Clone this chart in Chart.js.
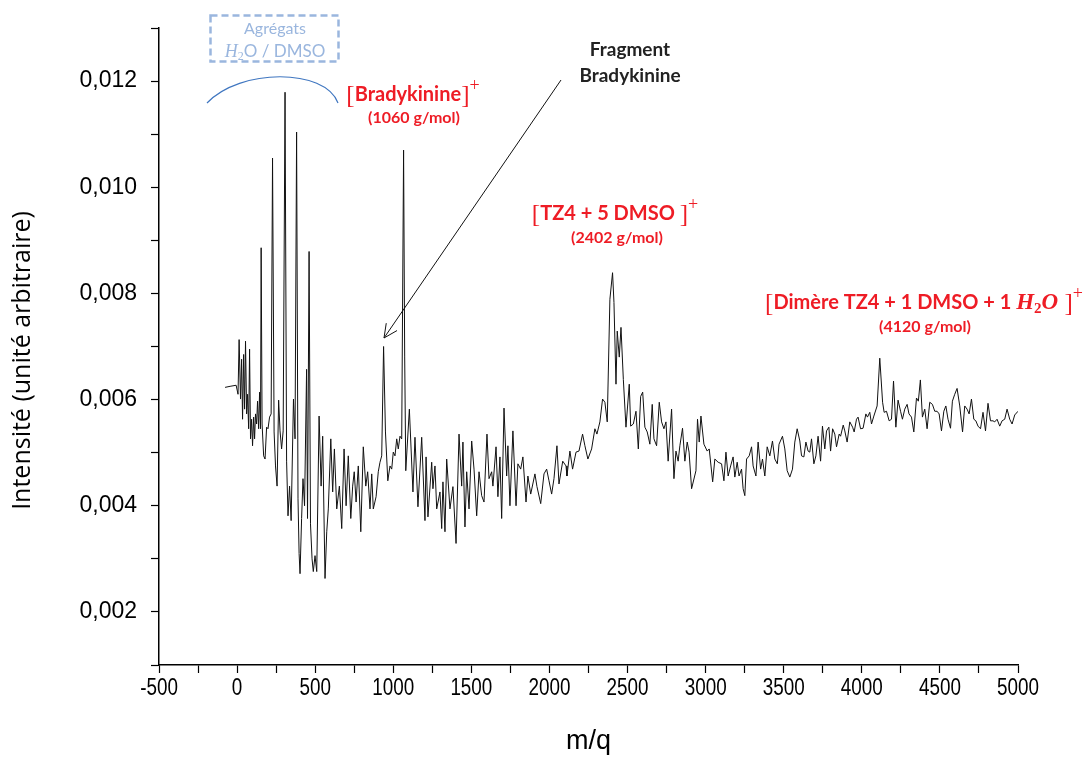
<!DOCTYPE html>
<html lang="fr">
<head>
<meta charset="utf-8">
<title>Spectre de masse</title>
<script src="https://cdn.jsdelivr.net/npm/chart.js@4.4.1/dist/chart.umd.min.js"></script>
<style>
  html, body { margin: 0; padding: 0; background: #fff; }
  #wrap { width: 1085px; height: 758px; }
</style>
</head>
<body>
<div id="wrap"><canvas id="chart" width="1085" height="758"></canvas></div>
<script>
/* global Chart */

// ── Data ──────────────────────────────────────────────────────────────────

// aggregates H2O / DMSO region
const mqAgg = [-77, -45, -6, 6, 13, 22, 29, 35, 42, 48, 54, 61, 67, 74, 80, 86, 93, 99, 106, 112,
  118, 125, 131, 138, 144, 150, 154, 160, 170, 179, 189, 198, 208, 218, 227, 237, 246, 256, 266, 275,
  285, 295, 307, 317, 326, 336, 346, 361, 371, 381, 390, 397, 403, 413, 422, 432, 445, 451, 461];
const intAgg = [0.00623, 0.00625, 0.00627, 0.00610, 0.00713, 0.00601, 0.00676, 0.00563, 0.00685, 0.00582,
  0.00710, 0.00573, 0.00610, 0.00545, 0.00695, 0.00526, 0.00563, 0.00513, 0.00567, 0.00526,
  0.00573, 0.00554, 0.00597, 0.00545, 0.00614, 0.00545, 0.00886, 0.00554, 0.00494, 0.00488,
  0.00548, 0.00545, 0.00567, 0.00573, 0.01055, 0.00539, 0.00475, 0.00437, 0.00599, 0.00541,
  0.00507, 0.00541, 0.01179, 0.00484, 0.00381, 0.00437, 0.00372, 0.00601, 0.00526, 0.01104,
  0.00413, 0.00310, 0.00272, 0.00376, 0.00451, 0.00400, 0.00657, 0.00376, 0.00879];

// fragment + bradykinine
const mqBrady = [470, 480, 488, 499, 510, 525, 538, 548, 563, 574, 584, 600, 612, 623, 638, 655, 670,
  685, 698, 712, 728, 740, 750, 762, 776, 792, 808, 824, 836, 851, 862, 872, 890, 904, 915, 926,
  938, 950, 965, 979, 990, 1000, 1011, 1022, 1032, 1043, 1054, 1066, 1073, 1080];
const intBrady = [0.00366, 0.00300, 0.00276, 0.00306, 0.00276, 0.00569, 0.00437, 0.00531, 0.00263, 0.00351,
  0.00394, 0.00526, 0.00426, 0.00507, 0.00394, 0.00437, 0.00357, 0.00507, 0.00400, 0.00494,
  0.00376, 0.00437, 0.00464, 0.00407, 0.00475, 0.00351, 0.00511, 0.00437, 0.00464, 0.00394,
  0.00460, 0.00394, 0.00417, 0.00464, 0.00482, 0.00494, 0.00700, 0.00539, 0.00447, 0.00475,
  0.00469, 0.00501, 0.00494, 0.00526, 0.00507, 0.00531, 0.00526, 0.01070, 0.00682, 0.00466];

// valley up to the TZ4 peak
const mqValley = [1103, 1126, 1139, 1158, 1182, 1203, 1210, 1222, 1246, 1254, 1267, 1278, 1299, 1310,
  1318, 1331, 1342, 1363, 1382, 1402, 1421, 1438, 1446, 1459, 1470, 1485, 1502, 1517, 1534, 1549,
  1566, 1581, 1600, 1613, 1630, 1638, 1658, 1670, 1683, 1694, 1709, 1726, 1734, 1747, 1766, 1786,
  1798, 1816, 1830, 1850, 1862, 1880, 1907, 1920, 1944, 1965, 1982, 1997, 2014, 2029, 2048, 2061,
  2085, 2106, 2112, 2131, 2148, 2170, 2189, 2212, 2227, 2246, 2270, 2291, 2304, 2323, 2340, 2355, 2370];
const intValley = [0.00582, 0.00426, 0.00529, 0.00398, 0.00529, 0.00372, 0.00492, 0.00379, 0.00482, 0.00432,
  0.00475, 0.00394, 0.00426, 0.00357, 0.00445, 0.00351, 0.00488, 0.00394, 0.00436, 0.00329,
  0.00535, 0.00437, 0.00520, 0.00360, 0.00464, 0.00394, 0.00522, 0.00469, 0.00381, 0.00464,
  0.00419, 0.00407, 0.00535, 0.00451, 0.00464, 0.00437, 0.00511, 0.00417, 0.00492, 0.00376,
  0.00584, 0.00456, 0.00513, 0.00400, 0.00541, 0.00400, 0.00479, 0.00469, 0.00492, 0.00407,
  0.00456, 0.00422, 0.00460, 0.00436, 0.00404, 0.00460, 0.00469, 0.00447, 0.00422, 0.00451,
  0.00513, 0.00441, 0.00484, 0.00475, 0.00456, 0.00503, 0.00469, 0.00501, 0.00503, 0.00535,
  0.00513, 0.00488, 0.00507, 0.00545, 0.00535, 0.00558, 0.00601, 0.00595, 0.00558];

// TZ4 + 5 DMSO peak and the trough after it
const mqTz4 = [2387, 2404, 2413, 2426, 2434, 2447, 2458, 2473, 2490, 2511, 2520, 2537, 2554, 2569, 2584,
  2597, 2611, 2626, 2643, 2658, 2669, 2686, 2703, 2718, 2733, 2746, 2760, 2782, 2797, 2810, 2824,
  2835, 2852, 2867, 2882, 2894, 2910, 2938, 2948, 2959, 2970, 2989, 3010, 3023, 3045, 3059, 3080,
  3102, 3117, 3130, 3144, 3160, 3176, 3187, 3202, 3214, 3230, 3240, 3251, 3262, 3279, 3294, 3304,
  3322, 3336, 3352, 3364, 3379, 3394, 3411, 3428, 3443, 3459, 3470, 3492, 3507, 3522, 3539, 3556,
  3571, 3586, 3603];
const intTz4 = [0.00789, 0.00839, 0.00783, 0.00629, 0.00729, 0.00680, 0.00736, 0.00638, 0.00548, 0.00629,
  0.00550, 0.00554, 0.00578, 0.00507, 0.00606, 0.00614, 0.00548, 0.00539, 0.00516, 0.00591,
  0.00526, 0.00513, 0.00595, 0.00558, 0.00545, 0.00558, 0.00484, 0.00582, 0.00451, 0.00503,
  0.00484, 0.00513, 0.00546, 0.00484, 0.00520, 0.00501, 0.00432, 0.00466, 0.00563, 0.00520,
  0.00569, 0.00516, 0.00503, 0.00507, 0.00445, 0.00488, 0.00482, 0.00479, 0.00447, 0.00501,
  0.00456, 0.00475, 0.00492, 0.00454, 0.00482, 0.00456, 0.00469, 0.00432, 0.00419, 0.00488,
  0.00494, 0.00511, 0.00475, 0.00456, 0.00520, 0.00469, 0.00488, 0.00456, 0.00511, 0.00494,
  0.00522, 0.00488, 0.00479, 0.00516, 0.00531, 0.00507, 0.00466, 0.00454, 0.00469, 0.00520,
  0.00545, 0.00522];

// dimer region up to the end of the scan
const mqDimer = [3614, 3629, 3642, 3656, 3667, 3678, 3693, 3706, 3720, 3736, 3748, 3763, 3774, 3789,
  3800, 3813, 3827, 3838, 3855, 3864, 3881, 3891, 3906, 3923, 3941, 3951, 3966, 3976, 3992, 4008,
  4026, 4036, 4051, 4062, 4077, 4098, 4115, 4133, 4143, 4158, 4175, 4190, 4203, 4218, 4232, 4248,
  4260, 4275, 4290, 4302, 4318, 4333, 4350, 4362, 4375, 4388, 4403, 4418, 4435, 4452, 4467, 4482,
  4495, 4510, 4525, 4538, 4552, 4568, 4580, 4595, 4610, 4627, 4645, 4659, 4674, 4687, 4702, 4717,
  4730, 4744, 4760, 4776, 4792, 4808, 4824, 4840, 4851, 4866, 4883, 4898, 4915, 4930, 4947, 4962,
  4979, 5000];
const intDimer = [0.00494, 0.00492, 0.00520, 0.00503, 0.00501, 0.00526, 0.00479, 0.00494, 0.00531, 0.00484,
  0.00550, 0.00507, 0.00541, 0.00548, 0.00503, 0.00545, 0.00535, 0.00511, 0.00535, 0.00531,
  0.00552, 0.00541, 0.00520, 0.00558, 0.00548, 0.00539, 0.00563, 0.00567, 0.00545, 0.00546,
  0.00573, 0.00567, 0.00576, 0.00554, 0.00569, 0.00588, 0.00678, 0.00595, 0.00576, 0.00578,
  0.00560, 0.00563, 0.00635, 0.00548, 0.00599, 0.00578, 0.00563, 0.00582, 0.00591, 0.00573,
  0.00567, 0.00539, 0.00603, 0.00597, 0.00637, 0.00567, 0.00582, 0.00545, 0.00595, 0.00591,
  0.00578, 0.00578, 0.00573, 0.00541, 0.00578, 0.00588, 0.00563, 0.00546, 0.00597, 0.00610,
  0.00621, 0.00588, 0.00539, 0.00588, 0.00582, 0.00573, 0.00601, 0.00563, 0.00560, 0.00550,
  0.00545, 0.00576, 0.00541, 0.00593, 0.00560, 0.00560, 0.00558, 0.00563, 0.00550, 0.00560,
  0.00563, 0.00582, 0.00563, 0.00554, 0.00571, 0.00578];

// axes
const X_MIN = -500, X_MAX = 5000, X_STEP = 250, X_LABEL_EVERY = 500;
const Y_MIN = 0.001, Y_MAX = 0.013, Y_STEP = 0.001;

// ── Styles ─────────────────────────────────────────────────────────────────

const RED   = '#ee1c25';
const BLUE  = '#3f76c0';
const PALE  = '#9ab6de';
const SANS  = 'Lato, "Open Sans", sans-serif';
const SERIF = '"Liberation Serif", "DejaVu Serif", serif';
const ARIAL = '"Liberation Sans", Arial, sans-serif';
const TICK_LEN = 8;
const X_LABEL_PAD = 4;

const mq = [...mqAgg, ...mqBrady, ...mqValley, ...mqTz4, ...mqDimer];
const intensity = [...intAgg, ...intBrady, ...intValley, ...intTz4, ...intDimer];
const points = mq.map((m, i) => ({ x: m, y: intensity[i] }));

// draw a row of differently styled text pieces, centred on cx
function drawRuns(ctx, runs, cx, y) {
  let total = 0;
  runs.forEach(r => { ctx.font = r.font; r.w = ctx.measureText(r.t).width; total += r.w; });
  let x = cx - total / 2;
  ctx.textAlign = 'left';
  ctx.textBaseline = 'alphabetic';
  runs.forEach(r => {
    ctx.font = r.font;
    ctx.fillStyle = r.color;
    ctx.fillText(r.t, x, y + (r.dy || 0));
    x += r.w;
  });
}

const br  = (t, c = RED) => ({ t, font: `25px ${SERIF}`, color: c, dy: 2 });
const sup = (c = RED) => ({ t: '+', font: `18px ${SERIF}`, color: c, dy: -10 });
const bold = (t, size = 20, c = RED) => ({ t, font: `bold ${size}px ${SANS}`, color: c });

// ── Annotations + narrow x tick labels ────────────────────────────────────

const annotations = {
  id: 'annotations',
  afterDraw(chart) {
    const ctx = chart.ctx;
    ctx.save();

    // x tick labels, horizontally squeezed like the original
    const xs = chart.scales.x;
    ctx.fillStyle = '#000';
    ctx.font = `23px ${ARIAL}`;
    ctx.textAlign = 'center';
    ctx.textBaseline = 'top';
    xs.ticks.forEach(t => {
      if (t.value % X_LABEL_EVERY !== 0) return;
      ctx.save();
      ctx.translate(xs.getPixelForValue(t.value), xs.top + TICK_LEN + X_LABEL_PAD);
      ctx.scale(0.82, 1);
      ctx.fillText(String(t.value), 0, 0);
      ctx.restore();
    });

    // y axis title, centred a little below the plot middle as in the original
    const ys = chart.scales.y;
    ctx.save();
    ctx.translate(23, (ys.top + ys.bottom) / 2 + 14);
    ctx.rotate(-Math.PI / 2);
    ctx.font = `25px "Open Sans", sans-serif`;
    ctx.textAlign = 'center';
    ctx.textBaseline = 'middle';
    ctx.fillText('Intensité (unité arbitraire)', 0, 0);
    ctx.restore();

    // dashed "Agrégats" box
    ctx.strokeStyle = PALE;
    ctx.lineWidth = 2.5;
    ctx.setLineDash([7, 4]);
    ctx.strokeRect(210.5, 15.5, 128, 46);
    ctx.setLineDash([]);
    drawRuns(ctx, [{ t: 'Agrégats', font: `16px ${SANS}`, color: PALE }], 275, 34);
    drawRuns(ctx, [
      { t: 'H', font: `italic 18px ${SERIF}`, color: PALE },
      { t: '2', font: `12px ${SERIF}`, color: PALE, dy: 3 },
      { t: 'O / DMSO', font: `17px ${SANS}`, color: PALE },
    ], 275, 57);

    // arc over the aggregate peaks
    ctx.strokeStyle = BLUE;
    ctx.lineWidth = 1.2;
    ctx.beginPath();
    ctx.moveTo(207, 103);
    ctx.bezierCurveTo(240, 68, 325, 68, 338, 103);
    ctx.stroke();

    // fragment arrow
    const x0 = 561, y0 = 80, x1 = 384, y1 = 338;
    ctx.strokeStyle = '#111';
    ctx.lineWidth = 1;
    ctx.beginPath();
    ctx.moveTo(x0, y0);
    ctx.lineTo(x1, y1);
    const a = Math.atan2(y1 - y0, x1 - x0);
    [0.45, -0.45].forEach(d => {
      ctx.moveTo(x1, y1);
      ctx.lineTo(x1 - 15 * Math.cos(a + d), y1 - 15 * Math.sin(a + d));
    });
    ctx.stroke();

    // labels
    drawRuns(ctx, [bold('Fragment', 19, '#222')], 630, 56);
    drawRuns(ctx, [bold('Bradykinine', 19, '#222')], 630, 82);

    drawRuns(ctx, [br('['), bold('Bradykinine'), br(']'), sup()], 413, 101);
    drawRuns(ctx, [bold('(1060 g/mol)', 16)], 414, 123);

    drawRuns(ctx, [br('['), bold('TZ4 + 5 DMSO '), br(']'), sup()], 615, 220);
    drawRuns(ctx, [bold('(2402 g/mol)', 16)], 617, 243);

    drawRuns(ctx, [
      br('['), bold('Dimère TZ4 + 1 DMSO + 1 '),
      { t: 'H', font: `bold italic 23px ${SERIF}`, color: RED },
      { t: '2', font: `bold 15px ${SERIF}`, color: RED, dy: 4 },
      { t: 'O', font: `bold italic 23px ${SERIF}`, color: RED },
      br(' ]'), sup(),
    ], 924, 309);
    drawRuns(ctx, [bold('(4120 g/mol)', 16)], 925, 332);

    ctx.restore();
  },
};

// ── Chart ──────────────────────────────────────────────────────────────────

new Chart(document.getElementById('chart'), {
  type: 'line',
  data: {
    datasets: [{
      data: points,
      borderColor: '#111',
      borderWidth: 1,
      pointRadius: 0,
      tension: 0,
      fill: false,
    }],
  },
  options: {
    responsive: false,
    animation: false,
    layout: { padding: { top: 28, right: 67, left: 0, bottom: 0 } },
    plugins: { legend: { display: false }, tooltip: { enabled: false } },
    scales: {
      x: {
        type: 'linear',
        min: X_MIN,
        max: X_MAX,
        afterFit: (s) => { s.height = 93; },
        border: { color: '#000', width: 1.5 },
        grid: { drawOnChartArea: false, tickLength: TICK_LEN, color: '#000', tickWidth: 1.2 },
        ticks: {
          stepSize: X_STEP,
          autoSkip: false,
          maxRotation: 0,
          color: '#000',
          // labels are drawn by the annotations plugin (squeezed font)
          callback: () => '',
        },
        title: {
          display: true,
          text: 'm/q',
          color: '#000',
          font: { family: ARIAL, size: 27 },
          padding: { top: 0, bottom: 0 },
        },
      },
      y: {
        min: Y_MIN,
        max: Y_MAX,
        afterFit: (s) => { s.width = 159; },
        border: { color: '#000', width: 1.5 },
        grid: { drawOnChartArea: false, tickLength: TICK_LEN, color: '#000', tickWidth: 1.2 },
        ticks: {
          stepSize: Y_STEP,
          autoSkip: false,
          padding: 14,
          color: '#000',
          font: { family: ARIAL, size: 23 },
          callback: (v) => {
            const k = Math.round(v * 1000);
            return k % 2 === 0 ? (k / 1000).toFixed(3).replace('.', ',') : '';
          },
        },
        // title drawn by the annotations plugin
        title: { display: false },
      },
    },
  },
  plugins: [annotations],
});
</script>
</body>
</html>
